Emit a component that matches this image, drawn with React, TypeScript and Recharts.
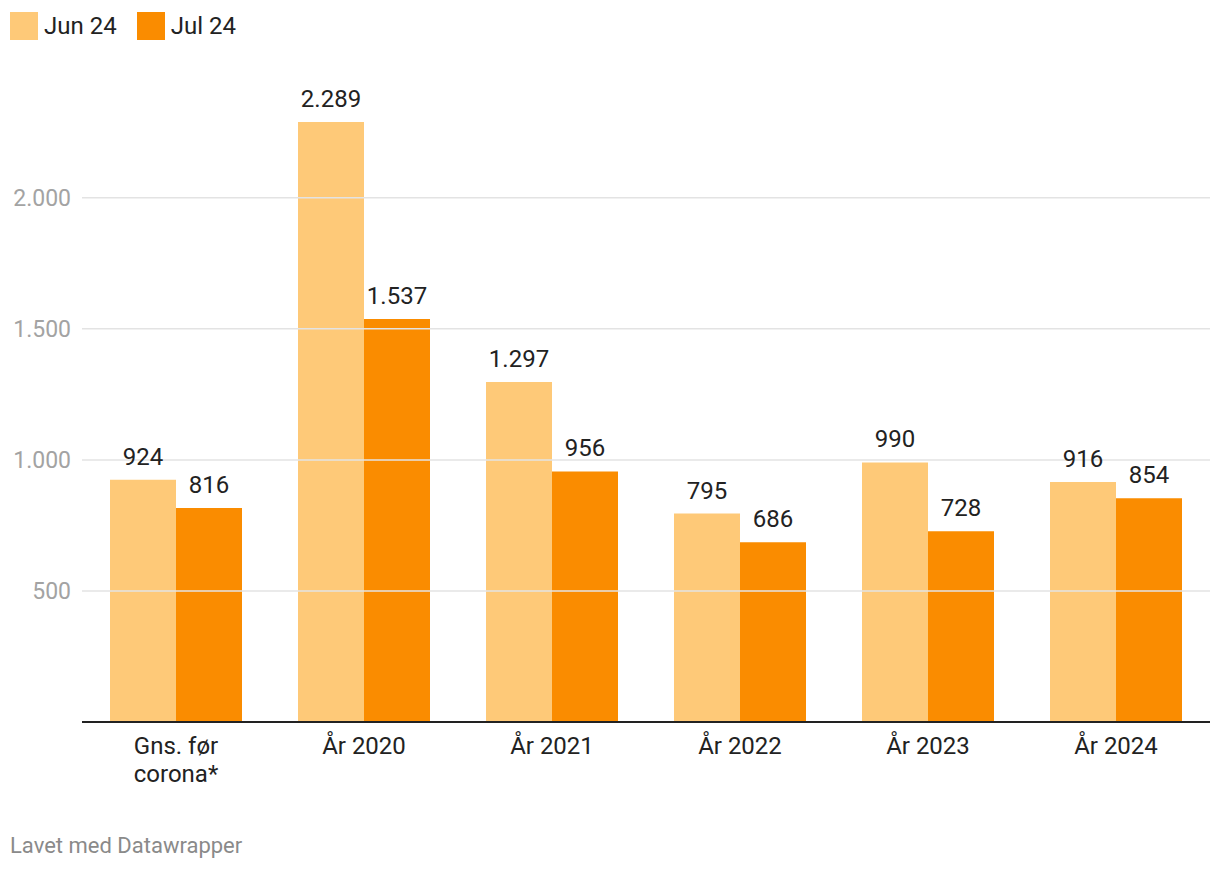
import { Bar, BarChart, LabelList, ReferenceLine, XAxis, YAxis } from 'recharts'

const categories = ['Gns. før\ncorona*', 'År 2020', 'År 2021', 'År 2022', 'År 2023', 'År 2024']
const jun24 = [924, 2289, 1297, 795, 990, 916]
const jul24 = [816, 1537, 956, 686, 728, 854]
const yTicks = [500, 1000, 1500, 2000]

const JUN_COLOR = '#fec978'
const JUL_COLOR = '#fa8c00'

const data = categories.map((name, i) => ({ name, jun: jun24[i], jul: jul24[i] }))

const fmt = (v: number) => v.toLocaleString('da-DK')

function CategoryTick({ x, y, payload }: any) {
  const lines = String(payload.value).split('\n')
  return (
    <text x={x} y={y} textAnchor='middle' fill='#222' fontSize={24} fontFamily='Roboto'>
      {lines.map((line, i) => (
        <tspan key={i} x={x} dy={i === 0 ? 24 : 28}>{line}</tspan>
      ))}
    </text>
  )
}

function LegendItem({ color, label }: { color: string; label: string }) {
  return (
    <div style={{ display: 'flex', alignItems: 'center', marginRight: 20 }}>
      <div style={{ width: 28, height: 28, background: color, marginRight: 6 }} />
      <span style={{ fontSize: 24, color: '#222' }}>{label}</span>
    </div>
  )
}

export default function App() {
  return (
    <div style={{ position: 'absolute', left: 0, top: 0, width: 1220, height: 872, background: '#fff', fontFamily: 'Roboto' }}>
      <div style={{ position: 'absolute', left: 10, top: 12, display: 'flex' }}>
        <LegendItem color={JUN_COLOR} label='Jun 24' />
        <LegendItem color={JUL_COLOR} label='Jul 24' />
      </div>
      <div style={{ position: 'absolute', left: 1, top: 0 }}>
        <BarChart
          width={1219}
          height={800}
          data={data}
          margin={{ top: 122, right: 10, left: 0, bottom: 18 }}
          barCategoryGap={28}
          barGap={0}
        >
          {yTicks.map((t) => (
            <ReferenceLine key={t} y={t} stroke='#e3e3e3' strokeWidth={1.5} />
          ))}
          <YAxis
            width={81}
            domain={[0, 'dataMax']}
            ticks={yTicks}
            tickFormatter={fmt}
            tickLine={false}
            axisLine={false}
            tickMargin={5}
            tick={{ fill: '#a3a3a3', fontSize: 23, fontFamily: 'Roboto' }}
          />
          <XAxis
            dataKey='name'
            height={60}
            tickLine={false}
            axisLine={{ stroke: '#222', strokeWidth: 2 }}
            interval={0}
            tick={<CategoryTick />}
          />
          <Bar dataKey='jun' fill={JUN_COLOR} isAnimationActive={false}>
            <LabelList dataKey='jun' position='top' offset={15} formatter={fmt} fill='#222' fontSize={24} fontFamily='Roboto' />
          </Bar>
          <Bar dataKey='jul' fill={JUL_COLOR} isAnimationActive={false}>
            <LabelList dataKey='jul' position='top' offset={15} formatter={fmt} fill='#222' fontSize={24} fontFamily='Roboto' />
          </Bar>
        </BarChart>
      </div>
      <div style={{ position: 'absolute', left: 10, top: 833, fontSize: 22, color: '#8a8a8a' }}>
        Lavet med Datawrapper
      </div>
    </div>
  )
}
